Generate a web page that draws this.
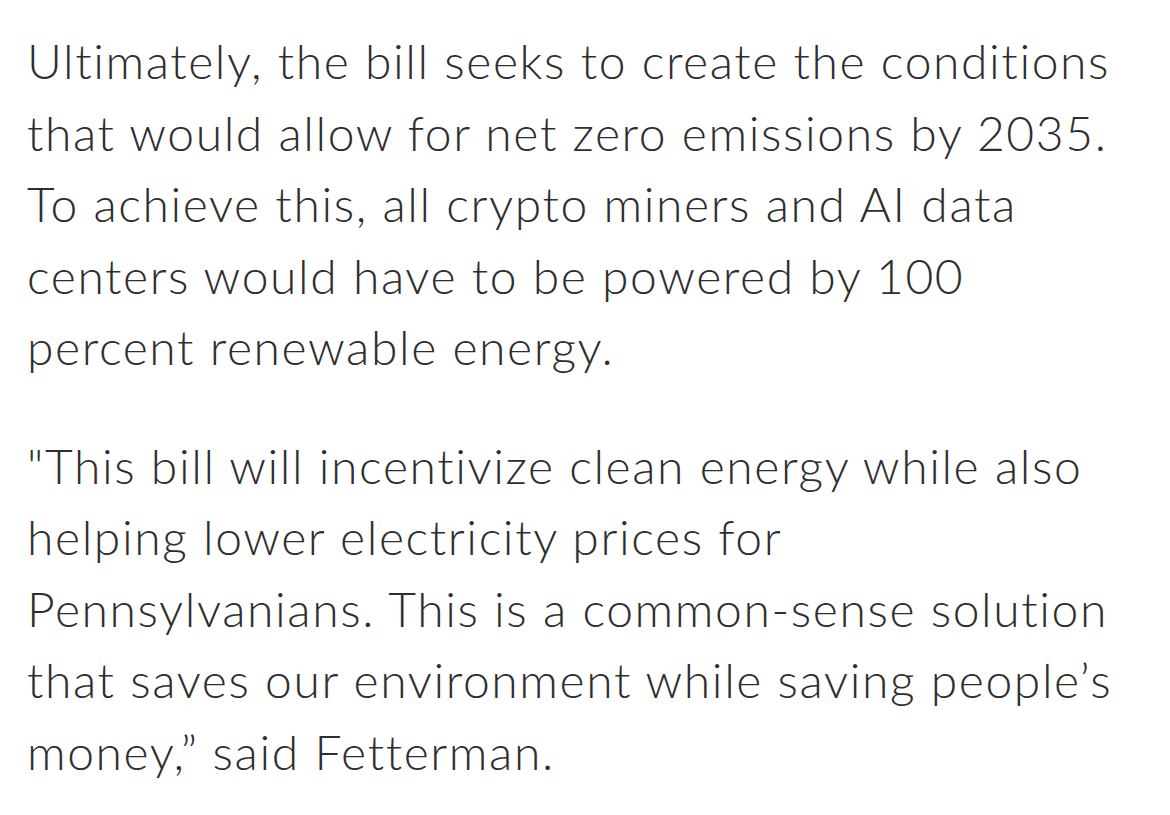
<!DOCTYPE html>
<html>
<head>
<meta charset="utf-8">
<script src="https://cdn.jsdelivr.net/npm/chart.js@4"></script>
<style>
  html, body { margin: 0; background: #fff; }
  body { width: 1170px; height: 815px; overflow: hidden; }
  .text { position: absolute; left: 27px; top: 25px; font-family: Lato, sans-serif; font-weight: 300; font-size: 48px; line-height: 71.5px; color: #2e2e2e; white-space: pre; letter-spacing: 1.6px; }
  p { margin: 0 0 47px 0; }
</style>
</head>
<body>
<div class="text" id="txt"></div>
<script>
// paragraph lines as they wrap in the picture
const para1 = [
  'Ultimately, the bill seeks to create the conditions',
  'that would allow for net zero emissions by 2035.',
  'To achieve this, all crypto miners and AI data',
  'centers would have to be powered by 100',
  'percent renewable energy.'
];
const para2 = [
  '"This bill will incentivize clean energy while also',
  'helping lower electricity prices for',
  'Pennsylvanians. This is a common-sense solution',
  'that saves our environment while saving people\u2019s',
  'money,\u201d said Fetterman.'
];
const box = document.getElementById('txt');
[para1, para2].forEach(lines => {
  const p = document.createElement('p');
  p.textContent = lines.join('\n');
  box.appendChild(p);
});
</script>
</body>
</html>
